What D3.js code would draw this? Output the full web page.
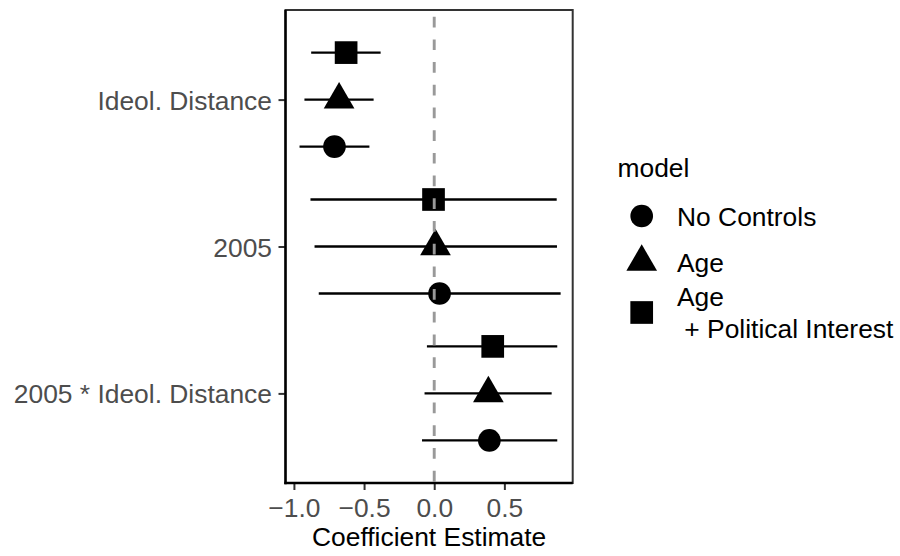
<!DOCTYPE html>
<html>
<head>
<meta charset="utf-8">
<script src="https://cdn.jsdelivr.net/npm/d3@7"></script>
<style>
  body { margin: 0; background: white; }
  svg { font-family: "Liberation Sans", Arial, sans-serif; }
</style>
</head>
<body>
<svg id="chart" width="900" height="556"></svg>
<script>
// terms from top to bottom, models as in the legend
const terms = ["Ideol. Distance", "2005", "2005 * Ideol. Distance"];
const models = ["No Controls", "Age", "Age\n + Political Interest"];
const modelShapes = ["circle", "triangle", "square"];

// estimate, lower and upper bound per model (same order as terms)
const estNoControls = [-0.711, 0.038, 0.393];
const lowNoControls = [-0.960, -0.823, -0.087];
const highNoControls = [-0.462, 0.901, 0.877];

const estAge = [-0.678, 0.009, 0.386];
const lowAge = [-0.925, -0.853, -0.069];
const highAge = [-0.432, 0.875, 0.837];

const estAgePI = [-0.628, -0.005, 0.417];
const lowAgePI = [-0.877, -0.882, -0.052];
const highAgePI = [-0.382, 0.873, 0.877];

const xTicks = [-1.0, -0.5, 0.0, 0.5];

const est = [estNoControls, estAge, estAgePI];
const low = [lowNoControls, lowAge, lowAgePI];
const high = [highNoControls, highAge, highAgePI];

const rows = [];
models.forEach((m, i) => {
    terms.forEach((t, j) => {
        rows.push({model: m, shape: modelShapes[i], term: t, est: est[i][j], low: low[i][j], high: high[i][j]});
    });
});

const panel = {left: 285.5, right: 572.7, top: 10, bottom: 483};
const fontSize = "26.4px";
const svg = d3.select("#chart");

const xScale = d3.scaleLinear()
    .domain([-1.06, 0.987])
    .range([panel.left, panel.right]);

const yScale = d3.scalePoint()
    .domain(terms)
    .range([panel.top, panel.bottom])
    .padding(0.61);

// dodge: square on top, circle at the bottom
const dodge = d3.scalePoint()
    .domain(models.slice().reverse())
    .range([-0.32 * yScale.step(), 0.32 * yScale.step()]);

const symbolSize = {circle: 404, triangle: 408, square: 515};
const symbolType = {circle: d3.symbolCircle, triangle: d3.symbolTriangle, square: d3.symbolSquare};
const symbolPath = s => d3.symbol().type(symbolType[s]).size(symbolSize[s])();

// panel border
svg.append("rect")
    .attr("x", panel.left)
    .attr("y", panel.top)
    .attr("width", panel.right - panel.left)
    .attr("height", panel.bottom - panel.top)
    .attr("fill", "none")
    .attr("stroke", "#333")
    .attr("stroke-width", 2);

const yPos = d => yScale(d.term) + dodge(d.model);

svg.append("g")
    .selectAll("line")
    .data(rows)
    .join("line")
    .attr("x1", d => xScale(d.low))
    .attr("x2", d => xScale(d.high))
    .attr("y1", yPos)
    .attr("y2", yPos)
    .attr("stroke", "black")
    .attr("stroke-width", 2.3);

svg.append("g")
    .selectAll("path")
    .data(rows)
    .join("path")
    .attr("d", d => symbolPath(d.shape))
    .attr("transform", d => `translate(${xScale(d.est)},${yPos(d)})`)
    .attr("fill", "black");

// zero line
svg.append("line")
    .attr("x1", xScale(0))
    .attr("x2", xScale(0))
    .attr("y1", panel.top)
    .attr("y2", panel.bottom)
    .attr("stroke", "#999")
    .attr("stroke-width", 2.9)
    .attr("stroke-dasharray", "10.7 12")
    .attr("stroke-dashoffset", 16);

// axes
const xAxis = d3.axisBottom(xScale)
    .tickValues(xTicks)
    .tickSize(7)
    .tickPadding(8);
const xAxisGroup = svg.append("g")
    .attr("transform", `translate(0,${panel.bottom})`)
    .call(xAxis);
xAxisGroup.select(".domain").remove();
xAxisGroup.selectAll("line").attr("stroke", "#333").attr("stroke-width", 2);
xAxisGroup.selectAll("text")
    .attr("fill", "#4d4d4d")
    .attr("font-size", fontSize)
    .attr("font-family", null)
    .text(d => d3.format(".1f")(d).replace("-", "\u2212"));

const yAxis = d3.axisLeft(yScale)
    .tickSize(7)
    .tickPadding(6.5);
const yAxisGroup = svg.append("g")
    .attr("transform", `translate(${panel.left},0)`)
    .call(yAxis);
yAxisGroup.select(".domain").remove();
yAxisGroup.selectAll("line").attr("stroke", "#333").attr("stroke-width", 2);
yAxisGroup.selectAll("text")
    .attr("fill", "#4d4d4d")
    .attr("font-size", fontSize)
    .attr("font-family", null)
    .attr("dy", "0.36em");

// axis lines, black and a bit heavier than the border
svg.append("line")
    .attr("x1", panel.left).attr("x2", panel.left)
    .attr("y1", panel.top).attr("y2", panel.bottom + 1.2)
    .attr("stroke", "black").attr("stroke-width", 2.4);
svg.append("line")
    .attr("x1", panel.left - 1.2).attr("x2", panel.right)
    .attr("y1", panel.bottom).attr("y2", panel.bottom)
    .attr("stroke", "black").attr("stroke-width", 2.4);

svg.append("text")
    .attr("x", (panel.left + panel.right) / 2)
    .attr("y", 546)
    .attr("text-anchor", "middle")
    .attr("font-size", fontSize)
    .attr("fill", "black")
    .text("Coefficient Estimate");

// legend
const legend = svg.append("g");
legend.append("text")
    .attr("x", 617.5)
    .attr("y", 177)
    .attr("font-size", fontSize)
    .text("model");

const rowHeights = [46, 46, 55];
let cursor = 193;
models.forEach((m, i) => {
    const cy = cursor + rowHeights[i] / 2;
    cursor += rowHeights[i];
    legend.append("path")
        .attr("d", symbolPath(modelShapes[i]))
        .attr("transform", `translate(641.7,${cy})`)
        .attr("fill", "black");
    const lines = m.split("\n");
    const lineH = 31.7;
    const label = legend.append("text")
        .attr("font-size", fontSize)
        .attr("y", cy - (lines.length - 1) * lineH / 2)
        .attr("dy", "0.36em");
    lines.forEach((l, k) => {
        label.append("tspan")
            .attr("x", 677)
            .attr("dy", k === 0 ? null : lineH)
            .style("white-space", "pre")
            .text(l);
    });
});
</script>
</body>
</html>
